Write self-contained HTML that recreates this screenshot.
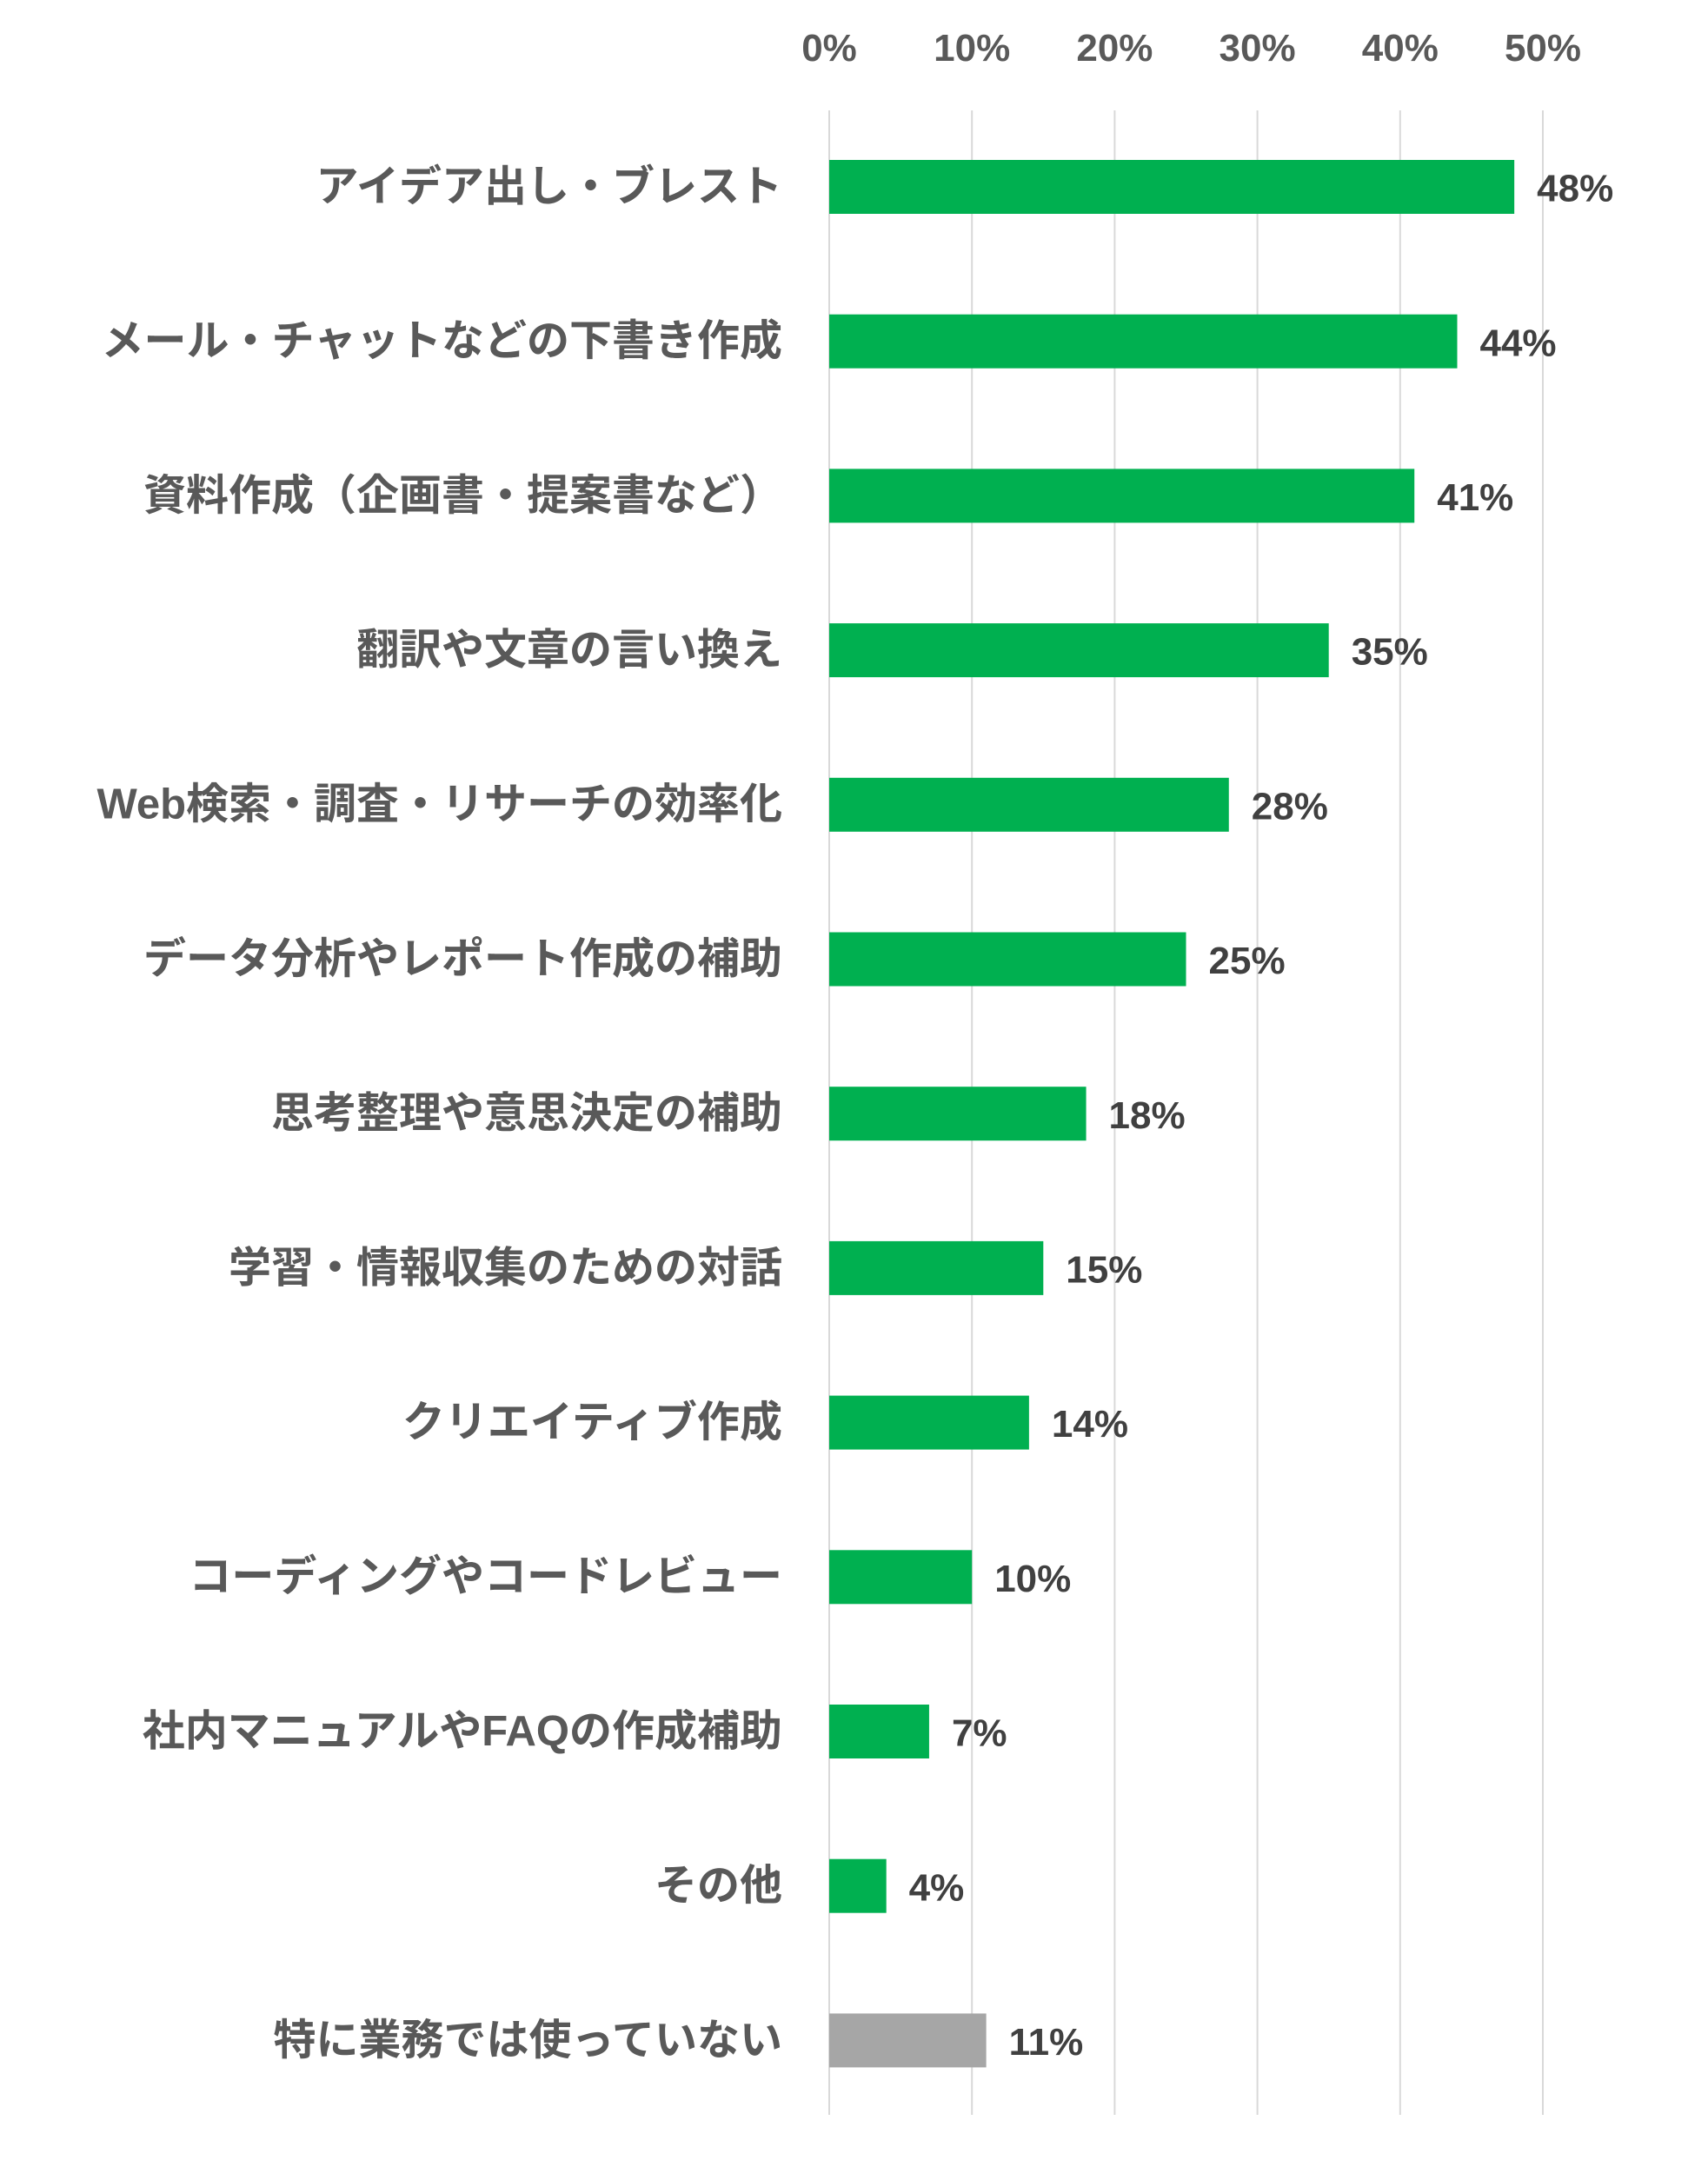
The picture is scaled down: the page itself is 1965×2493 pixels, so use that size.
<!DOCTYPE html>
<html><head><meta charset="utf-8">
<style>
html,body{margin:0;padding:0;background:#fff;}
body{width:1965px;height:2488px;overflow:hidden;}
svg text{font-family:"Liberation Sans","Noto Sans CJK JP",sans-serif;}
</style></head>
<body>
<svg id="chart" width="1965" height="2488" xmlns="http://www.w3.org/2000/svg"></svg>
<script>
const categories=["アイデア出し・ブレスト","メール・チャットなどの下書き作成","資料作成（企画書・提案書など）","翻訳や文章の言い換え","Web検索・調査・リサーチの効率化","データ分析やレポート作成の補助","思考整理や意思決定の補助","学習・情報収集のための対話","クリエイティブ作成","コーディングやコードレビュー","社内マニュアルやFAQの作成補助","その他","特に業務では使っていない"];
const values=[48,44,41,35,28,25,18,15,14,10,7,4,11];
const tickValues=[0,10,20,30,40,50];
const tickLabels=["0%","10%","20%","30%","40%","50%"];

const svg=document.getElementById('chart');
const NS="http://www.w3.org/2000/svg";
const x0=954,pxPer=16.42;
const xScale=v=>x0+v*pxPer;
const yTop=127,yBot=2433,firstC=215,step=177.7,barH=62;
const yScale=i=>firstC+i*step;
function mk(t,a){const e=document.createElementNS(NS,t);for(const k in a)e.setAttribute(k,a[k]);svg.appendChild(e);return e;}

tickValues.forEach((v,i)=>{
  const g=mk('line',{x1:xScale(v),x2:xScale(v),y1:yTop,y2:yBot,stroke:'#d9d9d9','stroke-width':2});
  
  
  const t=mk('text',{x:xScale(v),y:70,'text-anchor':'middle','font-size':44,'font-weight':'bold',fill:'#595959'});
  t.textContent=tickLabels[i];
  
  
});

categories.forEach((c,i)=>{
  const cy=yScale(i);
  const last=i===categories.length-1;
  const r=mk('rect',{x:x0,y:cy-barH/2,width:xScale(values[i])-x0,height:barH,fill:last?'#a6a6a6':'#00b050'});
  
  
  const l=mk('text',{x:900,y:cy+3,'text-anchor':'end','dominant-baseline':'middle','font-size':49,'font-weight':'bold',fill:'#595959'});
  l.textContent=c;
  
  
  const v=mk('text',{x:xScale(values[i])+26,y:cy+5,'dominant-baseline':'middle','font-size':44,'font-weight':'bold',fill:'#404040'});
  v.textContent=values[i]+'%';
  
  
});
</script>
</body></html>
